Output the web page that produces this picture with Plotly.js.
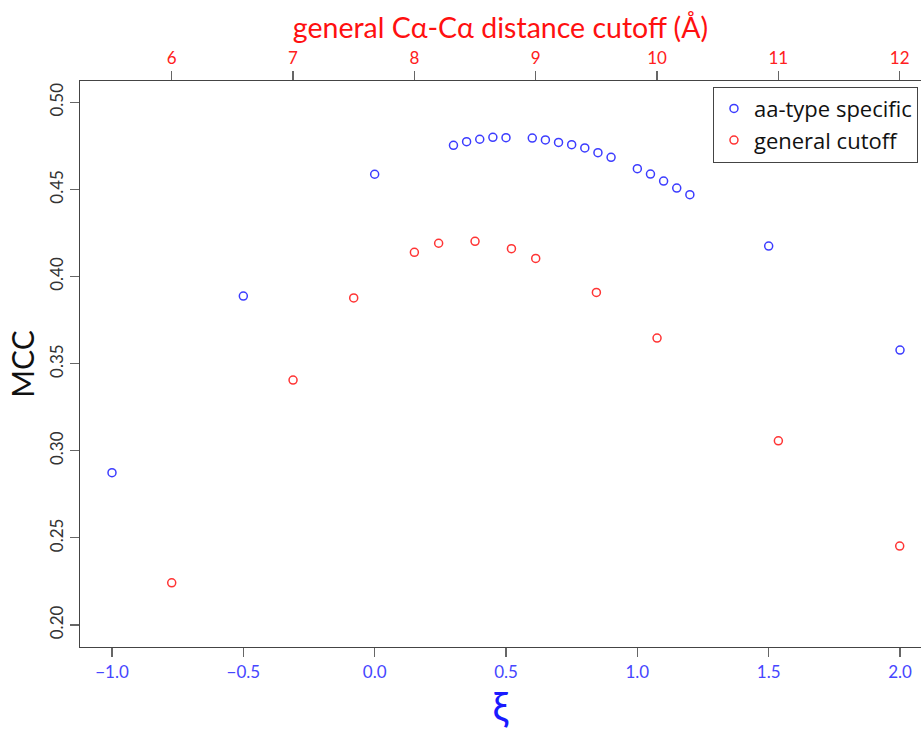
<!DOCTYPE html>
<html>
<head>
<meta charset="utf-8">
<script src="https://cdn.plot.ly/plotly-3.0.1.min.js"></script>
<style>html,body{margin:0;padding:0;background:#fff;}#chart{width:921px;height:730px;}</style>
</head>
<body>
<div id="chart"></div>
<script>
// aa-type specific series: xi vs MCC
const xiValues = [-1.0, -0.5, 0.0, 0.30, 0.35, 0.40, 0.45, 0.50, 0.60, 0.65, 0.70, 0.75, 0.80, 0.85, 0.90, 1.00, 1.05, 1.10, 1.15, 1.20, 1.5, 2.0];
const mccSpecific = [0.2874, 0.3888, 0.4587, 0.4753, 0.4774, 0.4788, 0.4799, 0.4797, 0.4795, 0.4784, 0.4770, 0.4757, 0.4738, 0.4711, 0.4684, 0.4619, 0.4588, 0.4548, 0.4508, 0.4470, 0.4175, 0.3578];
// general cutoff series: distance cutoff (Å) vs MCC
const cutoffValues = [6.0, 7.0, 7.5, 8.0, 8.2, 8.5, 8.8, 9.0, 9.5, 10.0, 11.0, 12.0];
const mccGeneral = [0.2242, 0.3406, 0.3877, 0.4139, 0.4191, 0.4202, 0.4160, 0.4104, 0.3909, 0.3647, 0.3057, 0.2453];
// tick labels
const xiTicks = [-1.0, -0.5, 0.0, 0.5, 1.0, 1.5, 2.0];
const cutoffTicks = [6, 7, 8, 9, 10, 11, 12];
const mccTicks = [0.20, 0.25, 0.30, 0.35, 0.40, 0.45, 0.50];

const FONT = 'Lato, "Open Sans", sans-serif';
const BLUE = '#3c3cff';
const RED = '#ff3434';

const traces = [
  {
    type: 'scatter', mode: 'markers', name: 'aa-type specific',
    x: xiValues, y: mccSpecific, xaxis: 'x', yaxis: 'y',
    marker: {symbol: 'circle-open', size: 8, color: BLUE, line: {width: 1.5, color: BLUE}}
  },
  {
    type: 'scatter', mode: 'markers', name: 'general cutoff',
    x: cutoffValues, y: mccGeneral, xaxis: 'x2', yaxis: 'y',
    marker: {symbol: 'circle-open', size: 8, color: RED, line: {width: 1.5, color: RED}}
  }
];

const layout = {
  width: 921, height: 730,
  margin: {l: 80, r: 0, t: 81, b: 83},
  paper_bgcolor: '#fff', plot_bgcolor: '#fff',
  font: {family: FONT, color: '#222'},
  showlegend: true,
  legend: {
    x: 0.9964, xanchor: 'right', y: 0.990, yanchor: 'top',
    bgcolor: '#fff', bordercolor: '#444', borderwidth: 1,
    font: {family: '"Open Sans", sans-serif', size: 22, color: '#111'},
    itemwidth: 30, tracegroupgap: 0
  },
  xaxis: {
    range: [-1.1218, 2.0799], tickvals: xiTicks, tickformat: '.1f',
    showgrid: false, zeroline: false, showline: true, linecolor: '#444', linewidth: 1.2,
    ticks: 'outside', ticklen: 9, tickcolor: '#666', tickwidth: 1.2,
    tickfont: {family: FONT, size: 17, color: '#4646ff'},
    title: {text: 'ξ', font: {family: FONT, size: 40, color: '#1a1aff'}, standoff: 11}
  },
  xaxis2: {
    overlaying: 'x', side: 'top', anchor: 'y',
    range: [5.2441, 12.1755], tickvals: cutoffTicks,
    showgrid: false, zeroline: false, showline: true, linecolor: '#444', linewidth: 1.2,
    ticks: 'outside', ticklen: 9, tickcolor: '#666', tickwidth: 1.2,
    tickfont: {family: FONT, size: 17, color: '#ff2020'},
    title: {text: 'general Cα-Cα distance cutoff (Å)', font: {family: FONT, size: 28.5, color: '#ff1010'}, standoff: 0}
  },
  yaxis: {
    range: [0.18737, 0.51223], tickvals: mccTicks, tickformat: '.2f', tickangle: -90,
    showgrid: false, zeroline: false, showline: true, linecolor: '#444', linewidth: 1.2,
    ticks: 'outside', ticklen: 9, tickcolor: '#666', tickwidth: 1.2,
    tickfont: {family: FONT, size: 17, color: '#333'},
    title: {text: 'MCC', font: {family: FONT, size: 30, color: '#111'}, standoff: 2}
  }
};

Plotly.newPlot('chart', traces, layout, {staticPlot: true, displayModeBar: false});
</script>
</body>
</html>
